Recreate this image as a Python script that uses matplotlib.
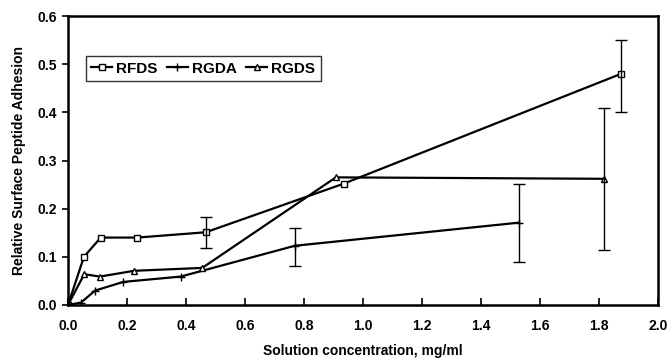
import matplotlib
matplotlib.use("Agg")
from matplotlib import pyplot as plt

plt.rcParams['font.family'] = ['Liberation Sans', 'DejaVu Sans']
plt.rcParams['font.weight'] = 'bold'

# data
rfds_x = [0.0, 0.054, 0.111, 0.235, 0.467, 0.935, 1.875]
rfds_y = [0.0, 0.100, 0.140, 0.140, 0.151, 0.252, 0.480]
rfds_lo = [0, 0, 0, 0, 0.033, 0, 0.080]
rfds_hi = [0, 0, 0, 0, 0.031, 0, 0.070]

rgda_x = [0.0, 0.044, 0.092, 0.188, 0.382, 0.769, 1.529]
rgda_y = [0.0, 0.005, 0.030, 0.048, 0.059, 0.123, 0.171]
rgda_lo = [0, 0, 0, 0, 0, 0.043, 0.082]
rgda_hi = [0, 0, 0, 0, 0, 0.037, 0.081]

rgds_x = [0.0, 0.055, 0.108, 0.224, 0.455, 0.908, 1.817]
rgds_y = [0.0, 0.064, 0.059, 0.071, 0.077, 0.265, 0.262]
rgds_lo = [0, 0, 0, 0, 0, 0, 0.148]
rgds_hi = [0, 0, 0, 0, 0, 0, 0.148]

xticks = [0.0, 0.2, 0.4, 0.6, 0.8, 1.0, 1.2, 1.4, 1.6, 1.8, 2.0]
yticks = [0.0, 0.1, 0.2, 0.3, 0.4, 0.5, 0.6]

fig = plt.figure(figsize=(6.68, 3.64), dpi=100)
ax = fig.add_axes([68 / 668, 59 / 364, 590 / 668, 289 / 364])

ax.plot(rfds_x, rfds_y, '-s', color='k', lw=1.6, ms=4.5, mfc='white', mew=1.0, label='RFDS')
ax.plot(rgda_x, rgda_y, '-+', color='k', lw=1.6, ms=6, mew=1.0, label='RGDA')
ax.plot(rgds_x, rgds_y, '-^', color='k', lw=1.6, ms=4.5, mfc='white', mew=1.0, label='RGDS')

# error bars only where drawn in the original
for xs, ys, lo, hi in [(rfds_x, rfds_y, rfds_lo, rfds_hi),
                       (rgda_x, rgda_y, rgda_lo, rgda_hi),
                       (rgds_x, rgds_y, rgds_lo, rgds_hi)]:
    px = [x for x, l in zip(xs, lo) if l > 0]
    py = [y for y, l in zip(ys, lo) if l > 0]
    pl = [l for l in lo if l > 0]
    ph = [h for h, l in zip(hi, lo) if l > 0]
    ax.errorbar(px, py, yerr=[pl, ph], fmt='none', ecolor='k', elinewidth=1.0, capsize=4, capthick=1.0)

ax.set_xlim(0, 2.0)
ax.set_ylim(0, 0.6)
ax.set_xticks(xticks)
ax.set_yticks(yticks)
ax.set_xticklabels(['%.1f' % t for t in xticks], fontsize=10, fontweight='bold')
ax.set_yticklabels(['%.1f' % t for t in yticks], fontsize=10, fontweight='bold')
ax.tick_params(axis='x', direction='in', length=5, width=1.2, pad=10)
ax.tick_params(axis='y', direction='out', length=4, width=1.2, pad=4)
for s in ax.spines.values():
    s.set_linewidth(1.8)

ax.set_xlabel('Solution concentration, mg/ml', fontsize=10, fontweight='bold', labelpad=8)
ax.set_ylabel('Relative Surface Peptide Adhesion', fontsize=10, fontweight='bold', labelpad=8)

leg = ax.legend(loc='upper left', bbox_to_anchor=(0.03, 0.86), ncol=3, frameon=True, fancybox=False,
                edgecolor='k', fontsize=11, handlelength=1.4, handletextpad=0.25, columnspacing=0.6,
                borderpad=0.35, borderaxespad=0)
leg.get_frame().set_linewidth(1.0)
for t in leg.get_texts():
    t.set_fontweight('bold')

fig.savefig('out.png', dpi=100)
